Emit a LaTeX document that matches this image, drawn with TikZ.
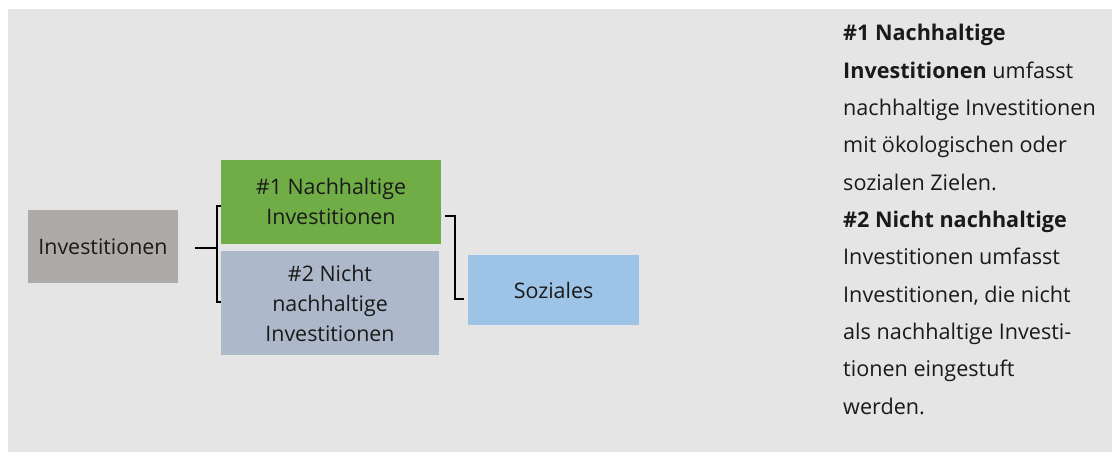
\documentclass[tikz,border=0pt]{standalone}
\usepackage{fontspec}
\setmainfont{Open Sans}
\begin{document}
\begin{tikzpicture}[x=1pt,y=-1pt,
  box/.style={rectangle,inner sep=0pt,align=center,text=txt,font=\fontsize{21.4}{30}\selectfont},
  line/.style={text=txt,anchor=base west,inner sep=0pt,font=\fontsize{21.6}{30}\selectfont},
  bracket/.style={draw=black,line width=1.4pt}]
\definecolor{bg}{HTML}{E5E5E5}
\definecolor{txt}{HTML}{1A1A1A}
\definecolor{invc}{HTML}{AEAAA8}
\definecolor{greenc}{HTML}{70AD47}
\definecolor{greyblue}{HTML}{ADB9CA}
\definecolor{lightblue}{HTML}{9DC3E6}
\useasboundingbox (0,0) rectangle (1116,452);
\fill[white] (0,0) rectangle (1116,452);
\fill[bg] (8,9) rectangle (1112,452);
\node[box,fill=invc,minimum width=150pt,minimum height=73pt] (inv) at (103,246.5) {Investitionen};
\node[box,fill=greenc,minimum width=220pt,minimum height=84pt] (nh) at (331,201.5) {\#1 Nachhaltige\\Investitionen};
\node[box,fill=greyblue,minimum width=218pt,minimum height=104pt] (nnh) at (330,303) {\#2 Nicht\\nachhaltige\\Investitionen};
\node[box,fill=lightblue,minimum width=171pt,minimum height=70pt] (soz) at (553.5,290) {Soziales};
% left bracket
\coordinate (ls) at (195,248);
\coordinate (lv) at (217,248);
\draw[bracket] (ls) -- (lv);
\draw[bracket] (nh.west |- 0,206) -- (217,206) -- (217,302) -- (nnh.west |- 0,302);
% right bracket
\coordinate (rt) at (445,216);
\coordinate (rb) at (464,299);
\draw[bracket] (rt) -- (455,216) |- (rb);
% right text
\node[line] (t1) at (843,41) {\textbf{\#1 Nachhaltige}};
\node[line] (t2) at (843,78.3) {\textbf{Investitionen} umfasst};
\node[line] (t3) at (843,115.6) {nachhaltige Investitionen};
\node[line] (t4) at (843,152.9) {mit ökologischen oder};
\node[line] (t5) at (843,190.2) {sozialen Zielen.};
\node[line] (t6) at (843,227.5) {\textbf{\#2 Nicht nachhaltige}};
\node[line] (t7) at (843,264.8) {Investitionen umfasst};
\node[line] (t8) at (843,302.1) {Investitionen, die nicht};
\node[line] (t9) at (843,339.4) {als nachhaltige Investi-};
\node[line] (t10) at (843,376.7) {tionen eingestuft};
\node[line] (t11) at (843,414) {werden.};
\end{tikzpicture}
\end{document}
